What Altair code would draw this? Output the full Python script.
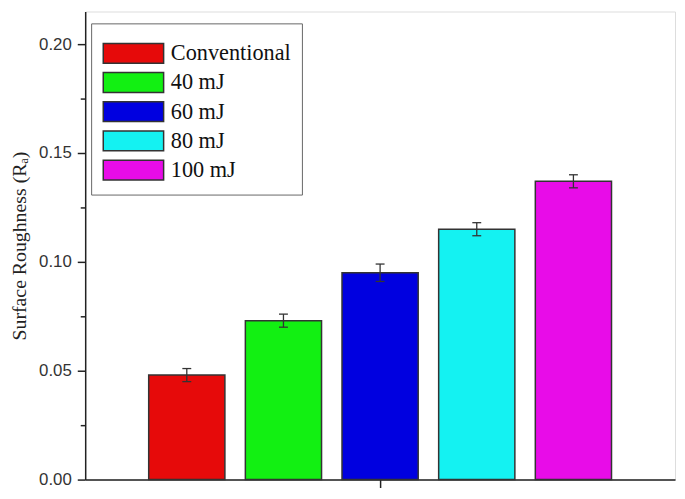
import altair as alt
import pandas as pd

labels = ["Conventional", "40 mJ", "60 mJ", "80 mJ", "100 mJ"]
positions = [1, 2, 3, 4, 5]
means = [0.048, 0.073, 0.095, 0.115, 0.137]
errs = [0.003, 0.003, 0.004, 0.003, 0.003]
colors = ["#E60A0A", "#12F012", "#0000E0", "#14F2F2", "#E80CE8"]
y_ticks = [0.0, 0.025, 0.05, 0.075, 0.10, 0.125, 0.15, 0.175, 0.20]
x_ticks = [3]

df = pd.DataFrame({"label": labels, "pos": positions, "mean": means, "err": errs})
df["lo"] = df["mean"] - df["err"]
df["hi"] = df["mean"] + df["err"]

xscale = alt.Scale(domain=[0, 6], nice=False, zero=False)
yscale = alt.Scale(domain=[0, 0.215], nice=False, zero=True)

rect_path = "M-1,-1 L5.1,-1 L5.1,1 L-1,1 Z"
minor_test = "abs(round(datum.value*40)) % 2 == 1"

bars = alt.Chart(df).mark_bar(size=77, stroke="#333333", strokeWidth=1.5, orient="vertical", opacity=1).encode(
    x=alt.X("pos:Q", scale=xscale,
            axis=alt.Axis(values=x_ticks, labels=False, title=None, grid=False, tickSize=8,
                          tickWidth=1.5, tickColor="#222222", domainColor="#222222", domainWidth=1.5)),
    y=alt.Y("mean:Q", scale=yscale,
            axis=alt.Axis(values=y_ticks, title="Surface Roughness (Rₐ)", orient="left",
                          labelExpr=f"{minor_test} ? '' : format(datum.value, '.2f')",
                          grid=False,
                          tickSize={"condition": {"test": minor_test, "value": 5}, "value": 8},
                          tickWidth=1.5, tickColor="#222222",
                          domainColor="#222222", domainWidth=1.5, labelPadding=6,
                          labelFont="Liberation Sans", labelFontSize=17, labelColor="#333333",
                          titleFont="Liberation Serif", titleFontSize=20, titleFontWeight="normal",
                          titleColor="#222222", titlePadding=9)),
    fill=alt.Fill("label:N", scale=alt.Scale(domain=labels, range=colors), sort=labels,
                  legend=alt.Legend(title="\u2003" * 25, titleFontSize=8, titlePadding=0,
                                    titleFont="Liberation Sans", titleLimit=400,
                                    orient="none", legendX=6, legendY=12,
                                    symbolType=rect_path, symbolSize=400,
                                    symbolStrokeColor="#333333", symbolStrokeWidth=1.5,
                                    symbolOpacity=1, labelOffset=47,
                                    labelFont="Liberation Serif", labelFontSize=22.5, labelColor="#111111",
                                    rowPadding=2.5, padding=11, fillColor="white",
                                    strokeColor="#666666")),
)

rules = alt.Chart(df).mark_rule(color="#333333", strokeWidth=1.3).encode(
    x=alt.X("pos:Q", scale=xscale),
    y=alt.Y("lo:Q", scale=yscale),
    y2="hi:Q",
)

cap_lo = alt.Chart(df).mark_tick(orient="horizontal", size=9, thickness=1.3, color="#333333", opacity=1).encode(
    x=alt.X("pos:Q", scale=xscale),
    y=alt.Y("lo:Q", scale=yscale),
)
cap_hi = alt.Chart(df).mark_tick(orient="horizontal", size=9, thickness=1.3, color="#333333", opacity=1).encode(
    x=alt.X("pos:Q", scale=xscale),
    y=alt.Y("hi:Q", scale=yscale),
)

chart = alt.layer(bars, rules, cap_lo, cap_hi).properties(
    width=596, height=473,
    autosize=alt.AutoSizeParams(type="none"),
    padding={"left": 78, "top": 1, "right": 2, "bottom": 9},
).configure_view(stroke="#222222", strokeWidth=1.5).configure(background="white")

chart.save("out.html", embed_options={"renderer": "svg", "actions": False})
